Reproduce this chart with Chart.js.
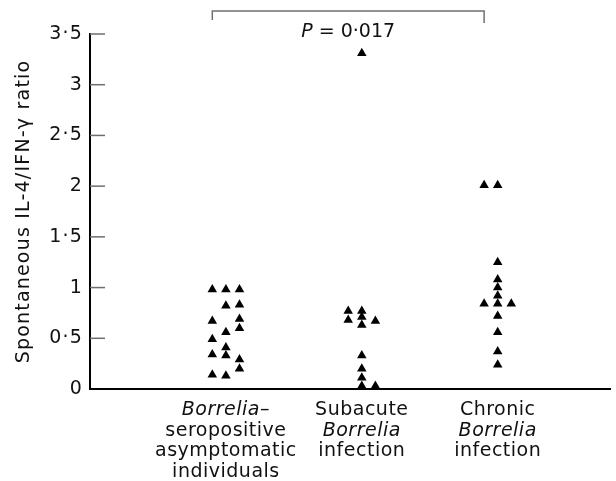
<!DOCTYPE html>
<html>
<head>
<meta charset="utf-8">
<script src="https://cdn.jsdelivr.net/npm/chart.js@4"></script>
<style>
  html, body { margin: 0; padding: 0; background: #fff; }
  canvas { display: block; }
</style>
</head>
<body>
<canvas id="chart" width="616" height="481"></canvas>
<script>
// Category labels, text between * is italic
const groupLabels = [
	['*Borrelia*–', 'seropositive', 'asymptomatic', 'individuals'],
	['Subacute', '*Borrelia*', 'infection'],
	['Chronic', '*Borrelia*', 'infection']
];

// IL-4/IFN-γ ratios, read per column (left / middle / right) of each group
const asymptomaticLeft = [0.98, 0.67, 0.49, 0.34, 0.14];
const asymptomaticMid = [0.98, 0.82, 0.56, 0.41, 0.33, 0.13];
const asymptomaticRight = [0.98, 0.83, 0.69, 0.60, 0.29, 0.20];

const subacuteLeft = [0.77, 0.68];
const subacuteMid = [3.31, 0.77, 0.71, 0.63, 0.33, 0.20, 0.11, 0.03];
const subacuteRight = [0.67, 0.03];

const chronicLeft = [2.01, 0.84];
const chronicMid = [2.01, 1.25, 1.08, 1.00, 0.92, 0.84, 0.72, 0.56, 0.37, 0.24];
const chronicRight = [0.84];

const yTicks = [0, 0.5, 1, 1.5, 2, 2.5, 3, 3.5];
const yTitle = 'Spontaneous IL-4/IFN-γ ratio';
const pValue = '0·017';

const FONT = '"DejaVu Sans", sans-serif';
const INK = '#111';
const COL_OFFSET = 0.1; // spread of the three point columns inside a group

function column(values, group, col) {
	return values.map(v => ({ x: group + col * COL_OFFSET, y: v }));
}

function groupPoints(left, mid, right, group) {
	return [
		...column(left, group, -1),
		...column(mid, group, 0),
		...column(right, group, 1)
	];
}

// draws one line with italic runs, centred on cx
function drawRich(ctx, line, cx, baseline) {
	const parts = line
		.split('*')
		.map((s, i) => ({ text: s, italic: i % 2 === 1 }))
		.filter(p => p.text);
	const fontFor = p => (p.italic ? 'italic ' : '') + '19px ' + FONT;

	let total = 0;
	parts.forEach(p => {
		ctx.font = fontFor(p);
		p.w = ctx.measureText(p.text).width;
		total += p.w;
	});

	let px = cx - total / 2;
	ctx.textAlign = 'left';
	ctx.textBaseline = 'alphabetic';
	parts.forEach(p => {
		ctx.font = fontFor(p);
		ctx.fillText(p.text, px, baseline);
		px += p.w;
	});
}

const decorations = {
	id: 'decorations',
	beforeDraw(chart) {
		chart.ctx.letterSpacing = '1.2px'; // the axis title is set wide
	},
	beforeDatasetsDraw(chart) {
		chart.ctx.letterSpacing = '0px';
	},
	afterDraw(chart) {
		const { ctx, chartArea: area } = chart;
		const x = chart.scales.x;
		const y = chart.scales.y;

		ctx.save();

		// tick marks point into the plot
		ctx.strokeStyle = '#6e6e6e';
		ctx.lineWidth = 1.5;
		y.ticks.forEach(t => {
			if (t.value === 0) return;
			const py = y.getPixelForValue(t.value);
			ctx.beginPath();
			ctx.moveTo(area.left, py);
			ctx.lineTo(area.left + 15, py);
			ctx.stroke();
		});

		// category labels
		ctx.fillStyle = INK;
		ctx.letterSpacing = '0.5px';
		groupLabels.forEach((lines, i) => {
			const cx = x.getPixelForValue(i + 1);
			lines.forEach((line, j) => {
				drawRich(ctx, line, cx, area.bottom + 26 + j * 20.7);
			});
		});

		// significance bracket between group 1 and group 3
		const bx1 = x.getPixelForValue(1 - COL_OFFSET);
		const bx2 = x.getPixelForValue(3 - COL_OFFSET);
		const by = area.top - 23;
		ctx.strokeStyle = '#707070';
		ctx.lineWidth = 1.5;
		ctx.beginPath();
		ctx.moveTo(bx1, by + 9);
		ctx.lineTo(bx1, by);
		ctx.lineTo(bx2, by);
		ctx.lineTo(bx2, by + 12);
		ctx.stroke();

		ctx.letterSpacing = '0px';
		drawRich(ctx, '*P* = ' + pValue, (bx1 + bx2) / 2, area.top + 3);

		ctx.restore();
	}
};

const pointStyle = {
	pointStyle: 'triangle',
	pointRadius: 5.5,
	pointBackgroundColor: '#000',
	pointBorderWidth: 0,
	clip: false
};

const config = {
	type: 'scatter',
	data: {
		datasets: [
			{ label: 'Asymptomatic', data: groupPoints(asymptomaticLeft, asymptomaticMid, asymptomaticRight, 1), ...pointStyle },
			{ label: 'Subacute', data: groupPoints(subacuteLeft, subacuteMid, subacuteRight, 2), ...pointStyle },
			{ label: 'Chronic', data: groupPoints(chronicLeft, chronicMid, chronicRight, 3), ...pointStyle }
		]
	},
	options: {
		responsive: false,
		animation: false,
		devicePixelRatio: 1,
		layout: { padding: { top: 34, right: 0, left: 0, bottom: 0 } },
		plugins: {
			legend: { display: false },
			tooltip: { enabled: false }
		},
		scales: {
			x: {
				type: 'linear',
				min: 0,
				max: 3.83,
				grid: { display: false, drawTicks: false },
				border: { display: true, color: '#000', width: 2 },
				ticks: { display: false },
				afterFit: scale => { scale.height = 92; }
			},
			y: {
				min: 0,
				max: 3.5,
				grid: { display: false, drawTicks: false },
				border: { display: true, color: '#000', width: 2 },
				afterBuildTicks: scale => {
					scale.ticks = yTicks.map(v => ({ value: v }));
				},
				ticks: {
					padding: 7,
					color: INK,
					font: { family: FONT, size: 19 },
					callback: v => String(v).replace('.', '·')
				},
				title: {
					display: true,
					text: yTitle,
					color: INK,
					font: { family: FONT, size: 19 },
					padding: { top: 13, bottom: 0 }
				},
				afterFit: scale => { scale.width = 90; }
			}
		}
	},
	plugins: [decorations]
};

new Chart(document.getElementById('chart'), config);
</script>
</body>
</html>
